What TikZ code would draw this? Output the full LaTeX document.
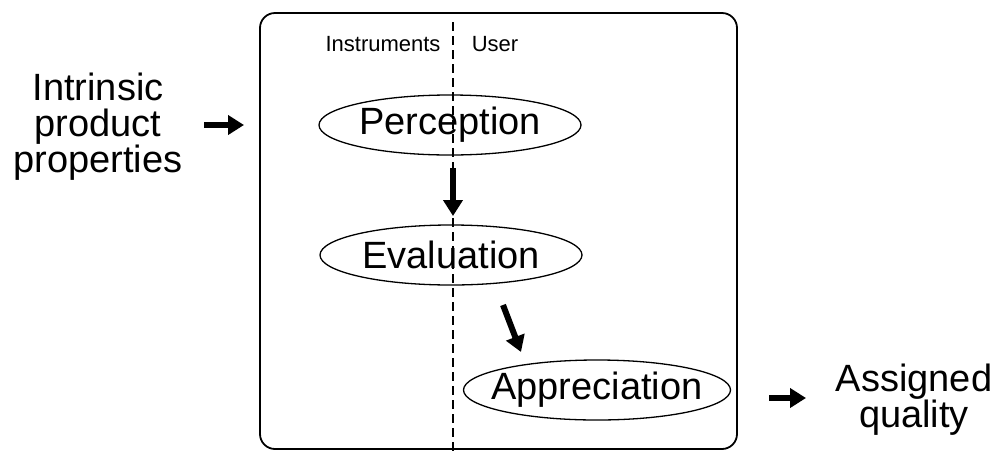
\documentclass[tikz,border=0pt]{standalone}
\usepackage{fontspec}
\setmainfont{Liberation Sans}
\usetikzlibrary{arrows.meta,shapes.geometric}
\begin{document}
\begin{tikzpicture}[x=1pt,y=-1pt,
  stage/.style={ellipse,draw,line width=1.3pt,minimum width=262pt,minimum height=60pt,inner sep=0pt,font=\fontsize{38}{40}\selectfont},
  bigtext/.style={align=center,font=\fontsize{38}{36}\selectfont},
  smalltext/.style={font=\fontsize{22}{24}\selectfont},
  fatarrow/.style={line width=6pt,-{Triangle[length=16pt,width=19pt]}}]
\useasboundingbox (0,0) rectangle (997,451);
% frame holding the process
\draw[line width=1.8pt,rounded corners=15pt] (260,13) rectangle (737,449);
\coordinate (divtop) at (453,22);
\coordinate (divbot) at (453,451);
\node[smalltext] (instr) at (383,44) {Instruments};
\node[smalltext] (user) at (495,44) {User};
% stages (text kept in zero-width boxes so the ellipses keep their size)
\node[stage] (perc) at (450,125) {\makebox[0pt]{Perception}};
\node[stage] (eval) at (451,255) {\makebox[0pt]{Evaluation}};
\node[stage,minimum width=267pt] (appr) at (597,390) {\makebox[0pt]{Appreciation}};
% divider between instruments and user
\draw[line width=1.2pt,dash pattern=on 9pt off 5pt] (divtop) -- (divbot);
% outer labels
\node[bigtext] (intr) at (98,127) {Intrinsic\\product\\properties};
\node[bigtext] (qual) at (914,400) {Assigned\\quality};
\coordinate (inA) at (204,125);
\coordinate (inB) at (244,125);
\coordinate (outA) at (769,398);
\coordinate (outB) at (806,398);
\draw[fatarrow] (inA) -- (inB);
\draw[fatarrow] (outA) -- (outB);
\draw[fatarrow] (453,168) -- (453,216);
\draw[fatarrow] (503,305) -- (521,352);
\end{tikzpicture}
\end{document}
